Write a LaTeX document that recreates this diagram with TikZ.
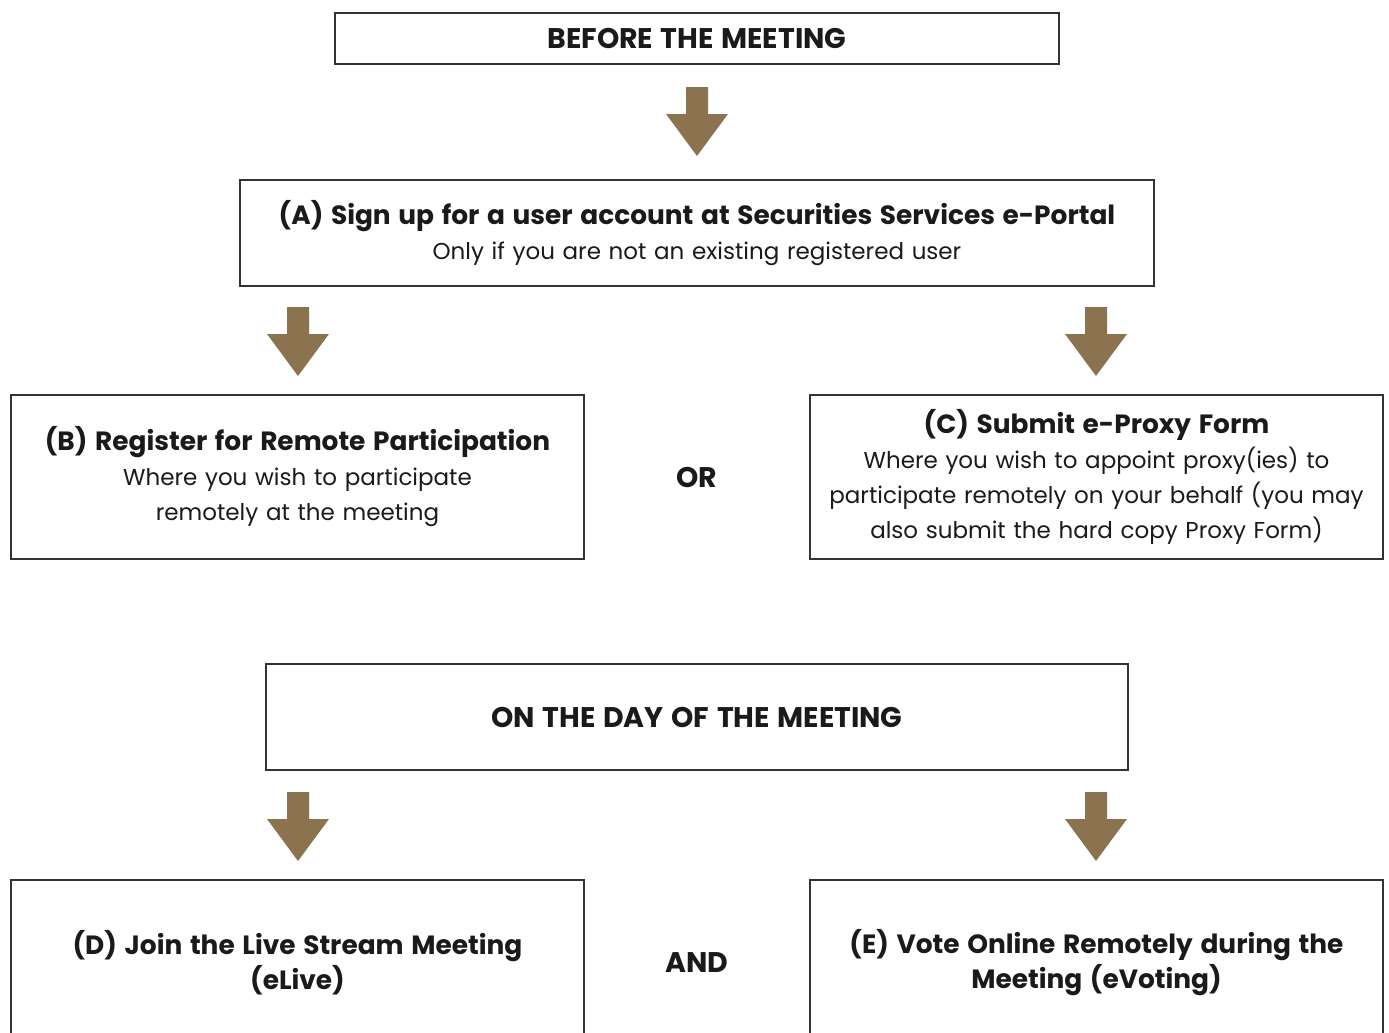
\documentclass[tikz,border=0pt]{standalone}
\usepackage{fontspec}
\setmainfont{Poppins}
\definecolor{arrowbrown}{HTML}{8B7350}
\definecolor{boxline}{HTML}{333333}
\definecolor{txt}{HTML}{1A1A1A}
\newcommand{\ttlfont}{\fontsize{13.2}{17.5}\selectfont\bfseries}
\newcommand{\capsfont}{\fontsize{14.2}{17.5}\selectfont\bfseries}
\tikzset{
  x=0.5pt, y=-0.5pt,
  flowbox/.style={draw=boxline, line width=0.8pt, fill=white, inner sep=0pt, align=center, text=txt, font=\fontsize{11.5}{17.5}\selectfont},
  midlabel/.style={text=txt, font=\capsfont},
  downarrow/.pic={\fill[arrowbrown] (-11,0)--(11,0)--(11,27)--(31,27)--(0,69)--(-31,27)--(-11,27)--cycle;}
}
\begin{document}
\begin{tikzpicture}
\useasboundingbox (0,0) rectangle (1389,1033);
\node[flowbox, text width=362pt, minimum height=25.5pt] (before) at (697,38.5) {\capsfont BEFORE THE MEETING};
\node[flowbox, text width=457pt, minimum height=53pt] (a) at (697,233) {{\ttlfont (A) Sign up for a user account at Securities Services e-Portal}\\Only if you are not an existing registered user};
\node[flowbox, text width=286.5pt, minimum height=82pt] (b) at (297.5,477) {{\ttlfont (B) Register for Remote Participation}\\Where you wish to participate\\remotely at the meeting};
\node[flowbox, text width=286.5pt, minimum height=82pt] (c) at (1096.5,477) {{\ttlfont (C) Submit e-Proxy Form}\\Where you wish to appoint proxy(ies) to\\participate remotely on your behalf (you may\\also submit the hard copy Proxy Form)};
\node[midlabel] (or) at (697,477) {OR};
\node[flowbox, text width=431pt, minimum height=53pt] (day) at (697,717) {\capsfont ON THE DAY OF THE MEETING};
\node[flowbox, text width=286.5pt, minimum height=83pt] (d) at (297.5,963) {\ttlfont (D) Join the Live Stream Meeting\\(eLive)};
\node[flowbox, text width=286.5pt, minimum height=83pt] (e) at (1096.5,963) {\ttlfont (E) Vote Online Remotely during the\\Meeting (eVoting)};
\node[midlabel] (and) at (697,963) {AND};
\pic at (697,87) {downarrow};
\pic at (298,307) {downarrow};
\pic at (1096,307) {downarrow};
\pic at (298,792) {downarrow};
\pic at (1096,792) {downarrow};
\end{tikzpicture}
\end{document}
